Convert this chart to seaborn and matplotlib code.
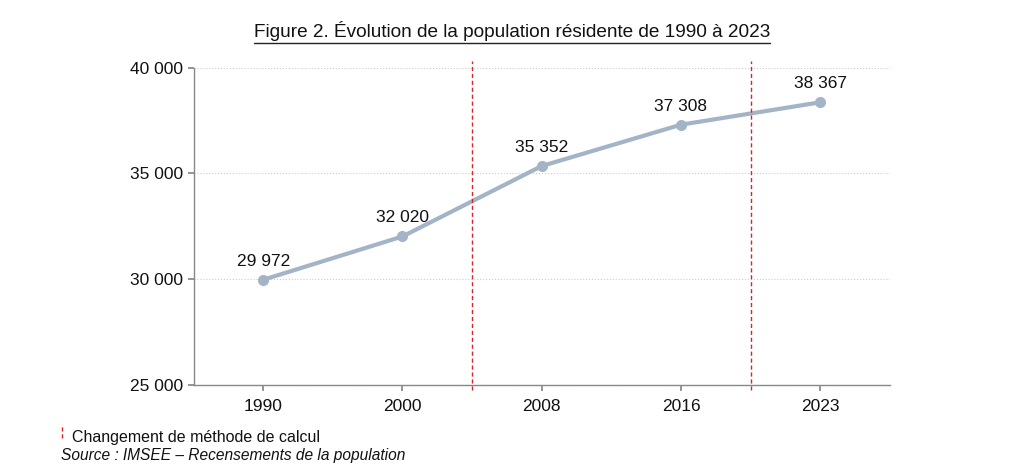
import matplotlib
matplotlib.use('Agg')
import matplotlib.pyplot as plt
from matplotlib.lines import Line2D
import seaborn as sns
import pandas

annees = ['1990', '2000', '2008', '2016', '2023']
population = [29972, 32020, 35352, 37308, 38367]
ruptures = [1.5, 3.5]  # entre 2000/2008 et 2016/2023
graduations_y = [25000, 30000, 35000, 40000]

sns.set_theme(style='white')
plt.rcParams['font.family'] = ['Liberation Sans', 'DejaVu Sans']


def format_milliers(valeur):
    return f'{valeur:,.0f}'.replace(',', ' ')


df = pandas.DataFrame({'annee': annees, 'population': population})

fig = plt.figure(figsize=(10.24, 4.74), dpi=100)
ax = fig.add_axes([0.189, 0.188, 0.680, 0.669])

sns.lineplot(data=df, x='annee', y='population', ax=ax, color='#a3b4c6',
             linewidth=3, marker='o', markersize=8, markeredgewidth=0, sort=False)

for i, valeur in enumerate(population):
    ax.annotate(format_milliers(valeur), (i, valeur), xytext=(0, 8),
                textcoords='offset points', ha='center', va='bottom', fontsize=12.5, color='#111111')

for x in ruptures:
    ax.axvline(x, ymin=-0.015, ymax=1.02, color='#d62728', linestyle=(0, (3, 2)),
               linewidth=1, clip_on=False)

ax.set_xlim(-0.5, 4.5)
ax.set_ylim(25000, 40000)
ax.set_yticks(graduations_y)
ax.set_yticklabels([format_milliers(v) for v in graduations_y])
ax.yaxis.grid(True, color='#cccccc', linestyle=':', linewidth=0.8)
ax.set_xlabel('')
ax.set_ylabel('')
for cote in ['top', 'right']:
    ax.spines[cote].set_visible(False)
for cote in ['left', 'bottom']:
    ax.spines[cote].set_color('#888888')
    ax.spines[cote].set_linewidth(1)
ax.tick_params(axis='both', which='both', length=4, color='#888888', labelsize=12.5,
               labelcolor='#111111', direction='out', left=True, bottom=True)
ax.tick_params(axis='x', pad=6)

titre = fig.text(0.5, 0.935, 'Figure 2. Évolution de la population résidente de 1990 à 2023',
                 ha='center', va='center', fontsize=13.7, color='#111111')
fig.canvas.draw()
bbox = titre.get_window_extent().transformed(fig.transFigure.inverted())
fig.add_artist(Line2D([bbox.x0, bbox.x1], [bbox.y0 - 0.004, bbox.y0 - 0.004],
                      color='#222222', linewidth=1, transform=fig.transFigure))

fig.add_artist(Line2D([0.0605, 0.0605], [0.075, 0.105], color='#d62728',
                      linestyle=(0, (3, 2)), linewidth=1, transform=fig.transFigure))
fig.text(0.070, 0.078, 'Changement de méthode de calcul', ha='left', va='center',
         fontsize=11.5, color='#111111')
fig.text(0.060, 0.038, 'Source : IMSEE – Recensements de la population', ha='left', va='center',
         fontsize=11.2, style='italic', color='#111111')

plt.savefig('out.png', dpi=100)
